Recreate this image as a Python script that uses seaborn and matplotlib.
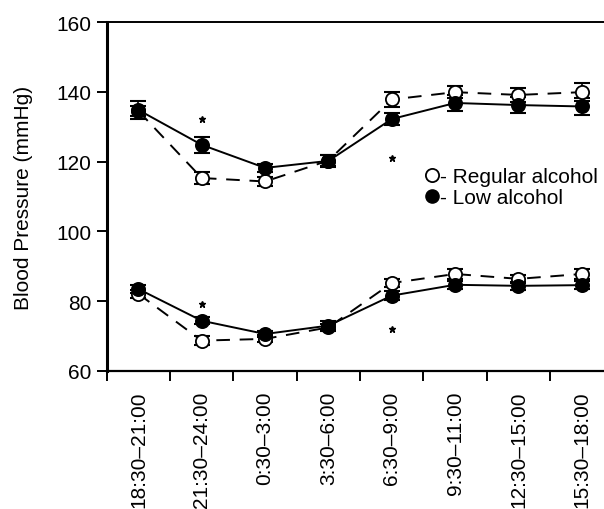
import numpy as np
import pandas as pd
import seaborn as sns
import matplotlib.pyplot as plt
from matplotlib.lines import Line2D

sns.set_style("white")
plt.rcParams['font.family'] = ['Liberation Sans', 'DejaVu Sans']
plt.rcParams.update({'text.color': 'black', 'axes.labelcolor': 'black',
                     'xtick.color': 'black', 'ytick.color': 'black'})

# time windows
periods = ['18:30–21:00', '21:30–24:00', '0:30–3:00', '3:30–6:00',
           '6:30–9:00', '9:30–11:00', '12:30–15:00', '15:30–18:00']

# systolic
sys_regular = [134.5, 115.3, 114.3, 120.3, 137.8, 139.9, 139.1, 139.9]
sys_regular_err = [1.5, 1.8, 1.2, 1.5, 2.2, 1.8, 1.9, 2.6]
sys_low = [134.8, 124.8, 118.2, 120.2, 132.2, 136.8, 136.2, 135.8]
sys_low_err = [2.5, 2.3, 1.2, 1.7, 1.7, 2.2, 2.3, 2.4]

# diastolic
dia_regular = [82.1, 68.7, 69.2, 72.5, 85.2, 87.8, 86.4, 87.8]
dia_regular_err = [1.2, 1.2, 1.0, 1.0, 1.2, 1.3, 1.2, 1.4]
dia_low = [83.5, 74.4, 70.6, 73.0, 81.6, 84.7, 84.4, 84.6]
dia_low_err = [1.2, 1.0, 1.0, 1.2, 1.2, 1.2, 1.2, 1.2]

# significance stars
star_x = [1, 4, 1, 4]
star_y = [132.2, 120.9, 79.2, 72.0]

pos = np.arange(len(periods))
fs = 15

fig = plt.figure(figsize=(6.04, 5.10), dpi=100)
ax = fig.add_axes([0.1767, 0.2706, 0.8233, 0.6843])

series = [
    (sys_regular, sys_regular_err, 'white', (0, (7, 5))),
    (sys_low, sys_low_err, 'black', '-'),
    (dia_regular, dia_regular_err, 'white', (0, (7, 5))),
    (dia_low, dia_low_err, 'black', '-'),
]

for vals, errs, face, ls in series:
    df = pd.DataFrame({'pos': pos, 'bp': vals})
    ax.errorbar(pos, vals, yerr=errs, fmt='none', ecolor='black',
                elinewidth=1.2, capsize=6, capthick=1.5, zorder=2)
    sns.lineplot(data=df, x='pos', y='bp', ax=ax, color='black',
                 linestyle=ls, linewidth=1.4, marker='o', markersize=9.5,
                 markerfacecolor=face, markeredgecolor='black',
                 markeredgewidth=1.3, zorder=3)

ax.plot(star_x, star_y, linestyle='none', marker='*', markersize=5,
        color='black')

ax.set_xlim(-0.5, 7.35)
ax.set_ylim(60, 160)
ax.set_yticks([60, 80, 100, 120, 140, 160])
ax.set_xticks(np.arange(-0.5, 7.0, 1.0))
ax.set_xticklabels([])
ax.set_xticks(pos, minor=True)
ax.set_xticklabels(periods, minor=True, rotation=90)
ax.tick_params(axis='x', which='major', direction='out', length=7, width=1.4,
               bottom=True)
ax.tick_params(axis='x', which='minor', length=0, pad=14, labelsize=fs)
ax.tick_params(axis='y', direction='out', length=7, width=1.4, left=True,
               pad=4, labelsize=fs)
ax.set_xlabel('')
ax.set_ylabel('Blood Pressure (mmHg)', fontsize=fs, labelpad=17)

ax.spines['right'].set_visible(False)
ax.spines['left'].set_linewidth(2.2)
ax.spines['bottom'].set_linewidth(1.6)
ax.spines['top'].set_linewidth(1.4)
for s in ['left', 'bottom', 'top']:
    ax.spines[s].set_color('black')

handles = [
    Line2D([], [], linestyle='none', marker='o', markersize=9.5,
           markerfacecolor='white', markeredgecolor='black', markeredgewidth=1.3),
    Line2D([], [], linestyle='none', marker='o', markersize=9.5,
           markerfacecolor='black', markeredgecolor='black'),
]
ax.legend(handles, ['- Regular alcohol', '- Low alcohol'], frameon=False,
          loc='upper left', bbox_to_anchor=(424 / 604, 1 - 168 / 510),
          bbox_transform=fig.transFigure, borderpad=0, borderaxespad=0,
          handlelength=0.75, handletextpad=0.0, labelspacing=0.1,
          fontsize=fs)

fig.savefig('out.png', dpi=100)
